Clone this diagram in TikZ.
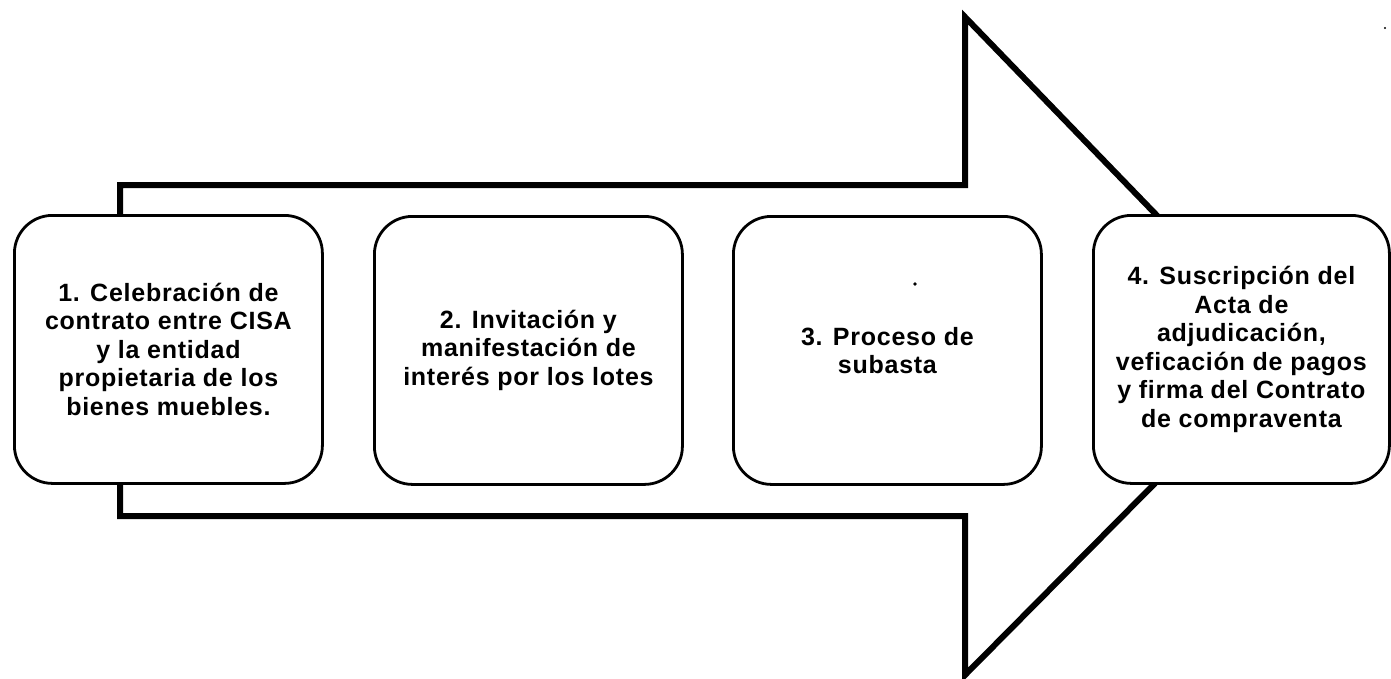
\documentclass[tikz,border=0pt]{standalone}
\usepackage{fontspec}
\setmainfont{Liberation Sans}[LetterSpace=3]
\begin{document}
\begin{tikzpicture}[x=1pt,y=-1pt,
  stepbox/.style={draw=black, line width=2.8pt, fill=white, rounded corners=38pt,
    minimum width=308pt, minimum height=268pt, align=center, anchor=north west,
    font=\fontsize{25}{28.5}\selectfont\bfseries, inner sep=0pt},
  bigarrow/.style={draw=black, line width=6pt, fill=white, line join=miter}]
\useasboundingbox (0,0) rectangle (1391,678);
% big arrow
\coordinate (sTL) at (120,185);
\coordinate (sTR) at (965,185);
\coordinate (hT) at (965,17);
\coordinate (apex) at (1287,350);
\coordinate (hB) at (965,675);
\coordinate (sBR) at (965,516);
\coordinate (sBL) at (120,516);
\draw[bigarrow] (sTL) -- (sTR) -- (hT) -- (apex) -- (hB) -- (sBR) -- (sBL) -- cycle;
% step boxes
\node[stepbox] (b1) at (13,214) {1. Celebración de\\contrato entre CISA\\y la entidad\\propietaria de los\\bienes muebles.};
\node[stepbox] (b2) at (373,215) {2. Invitación y\\manifestación de\\interés por los lotes};
\node[stepbox] (b3) at (732,215) {3. Proceso de\\subasta};
\node[stepbox, minimum width=296pt] (b4) at (1092,214) {4. Suscripción del\\Acta de\\adjudicación,\\veficación de pagos\\y firma del Contrato\\de compraventa};
% stray specks
\fill (915,284) circle (1.8pt);
\fill (1385,28) circle (1.2pt);
\end{tikzpicture}
\end{document}
